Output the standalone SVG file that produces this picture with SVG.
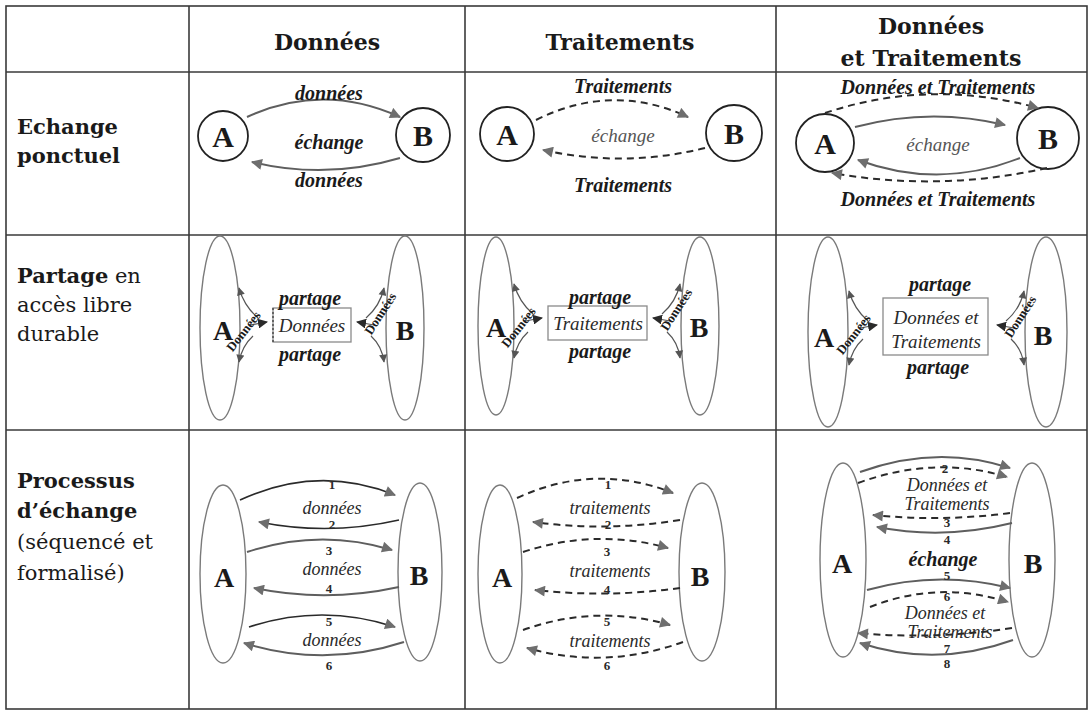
<svg xmlns="http://www.w3.org/2000/svg" xmlns:xlink="http://www.w3.org/1999/xlink" width="1091" height="712" viewBox="0 0 1091 712">
  <style>
    .grid { stroke: #3a3a3a; stroke-width: 1.6; fill: none; }
    .hdr { font-family: "DejaVu Serif", "Liberation Serif", serif; font-weight: bold; font-size: 22px; fill: #1a1a1a; text-anchor: middle; }
    .rowl { font-family: "DejaVu Serif", "Liberation Serif", serif; font-size: 21px; fill: #1a1a1a; }
    .rowl .b { font-weight: bold; }
    .node { stroke: #222; stroke-width: 1.8; fill: #fff; }
    .ell { stroke: #7a7a7a; stroke-width: 1.4; fill: none; }
    .ab { font-family: "Liberation Serif", serif; font-weight: bold; font-size: 30px; fill: #1a1a1a; text-anchor: middle; }
    .ab2 { font-family: "Liberation Serif", serif; font-weight: bold; font-size: 28px; fill: #1a1a1a; text-anchor: middle; }
    .arc { stroke: #5e5e5e; stroke-width: 2; fill: none; }
    .arcd { stroke: #2a2a2a; stroke-width: 1.6; fill: none; }
    .dash { stroke: #2a2a2a; stroke-width: 2; fill: none; stroke-dasharray: 7 5; }
    .thin { stroke: #555; stroke-width: 1.2; fill: none; }
    .lb { font-family: "Liberation Serif", serif; font-weight: bold; font-style: italic; font-size: 20px; fill: #1a1a1a; text-anchor: middle; }
    .li { font-family: "Liberation Serif", serif; font-style: italic; font-size: 19px; fill: #2a2a2a; text-anchor: middle; }
    .ls { font-family: "Liberation Serif", serif; font-style: italic; font-size: 18px; fill: #2a2a2a; text-anchor: middle; }
    .lg { font-family: "Liberation Serif", serif; font-style: italic; font-size: 19px; fill: #555; text-anchor: middle; }
    .num { font-family: "Liberation Serif", serif; font-weight: bold; font-size: 13px; fill: #2a2a2a; text-anchor: middle; }
    .rot { font-family: "Liberation Serif", serif; font-weight: bold; font-size: 13px; fill: #1a1a1a; text-anchor: middle; }
    .box { stroke: #8a8a8a; stroke-width: 1.3; fill: #fff; }
  </style>
  <defs>
    <marker id="ah" viewBox="0 0 10 10" refX="9" refY="5" markerWidth="12" markerHeight="11" markerUnits="userSpaceOnUse" orient="auto">
      <path d="M0,0 L10,5 L0,10 z" fill="#6e6e6e"/>
    </marker>
    <marker id="ahs" viewBox="0 0 10 10" refX="9" refY="5" markerWidth="9" markerHeight="8" markerUnits="userSpaceOnUse" orient="auto">
      <path d="M0,0 L10,5 L0,10 z" fill="#555"/>
    </marker>
    <marker id="ahk" viewBox="0 0 10 10" refX="9" refY="5" markerWidth="10" markerHeight="10" markerUnits="userSpaceOnUse" orient="auto">
      <path d="M0,0 L10,5 L0,10 z" fill="#2a2a2a"/>
    </marker>
    <!-- shared access arrows, left side: origin = tip of the arrow pointing at the box -->
    <g id="shareL">
      <path class="thin" d="M-9,-4 Q-23,-16 -28,-34" marker-end="url(#ahs)"/>
      <path class="thin" d="M-17,3 L0,0" marker-end="url(#ahk)"/>
      <path class="thin" d="M-14,14 Q-25,24 -28,40" marker-end="url(#ahs)"/>
      <text class="rot" transform="translate(-20,12) rotate(-52)">Données</text>
    </g>
    <!-- shared access arrows, right side -->
    <g id="shareR">
      <path class="thin" d="M9,-4 Q23,-16 27,-34" marker-end="url(#ahs)"/>
      <path class="thin" d="M17,3 L0,0" marker-end="url(#ahk)"/>
      <path class="thin" d="M14,14 Q25,24 27,40" marker-end="url(#ahs)"/>
      <text class="rot" transform="translate(27,-6) rotate(-57)">Données</text>
    </g>
  </defs>

  <rect width="1091" height="712" fill="#fff"/>

  <!-- table grid -->
  <g id="grid" class="grid">
    <rect x="6" y="6" width="1081" height="703"/>
    <line x1="189" y1="6" x2="189" y2="709"/>
    <line x1="465" y1="6" x2="465" y2="709"/>
    <line x1="776" y1="6" x2="776" y2="709"/>
    <line x1="6" y1="72" x2="1087" y2="72"/>
    <line x1="6" y1="235" x2="1087" y2="235"/>
    <line x1="6" y1="430" x2="1087" y2="430"/>
  </g>

  <!-- column headers -->
  <g id="headers">
    <text class="hdr" x="327" y="50">Données</text>
    <text class="hdr" x="620" y="50">Traitements</text>
    <text class="hdr" x="931" y="34">Données</text>
    <text class="hdr" x="931" y="66">et Traitements</text>
  </g>

  <!-- row headers -->
  <g id="row-labels" class="rowl">
    <text x="17" y="134" class="b">Echange</text>
    <text x="17" y="163" class="b">ponctuel</text>
    <text x="17" y="283"><tspan class="b">Partage</tspan> en</text>
    <text x="17" y="312">accès libre</text>
    <text x="17" y="341">durable</text>
    <text x="17" y="488" class="b">Processus</text>
    <text x="17" y="518" class="b">d’échange</text>
    <text x="17" y="549">(séquencé et</text>
    <text x="17" y="580">formalisé)</text>
  </g>

  <!-- ===== Row 1: point-to-point exchange ===== -->
  <g id="r1c2-A"><circle class="node" cx="223" cy="136" r="25"/><text class="ab" x="223" y="147">A</text></g>
  <g id="r1c2-B"><circle class="node" cx="423" cy="135" r="27"/><text class="ab" x="423" y="146">B</text></g>
  <g id="r1c3-A"><circle class="node" cx="507" cy="134" r="27"/><text class="ab" x="507" y="145">A</text></g>
  <g id="r1c3-B"><circle class="node" cx="734" cy="133" r="28"/><text class="ab" x="734" y="144">B</text></g>
  <g id="r1c4-A"><circle class="node" cx="825" cy="143" r="29"/><text class="ab" x="825" y="154">A</text></g>
  <g id="r1c4-B"><circle class="node" cx="1048" cy="138" r="31"/><text class="ab" x="1048" y="149">B</text></g>

  <!-- ===== Row 2: shared access ===== -->
  <g id="r2c2-A"><ellipse class="ell" cx="220" cy="328" rx="20" ry="92"/><text class="ab2" x="223" y="340">A</text></g>
  <g id="r2c2-B"><ellipse class="ell" cx="405" cy="328" rx="19" ry="92"/><text class="ab2" x="405" y="340">B</text></g>
  <g id="r2c2-store">
    <rect class="box" x="273" y="308" width="78" height="34"/>
    <line x1="273" y1="308" x2="273" y2="342" stroke="#333" stroke-width="1.2" stroke-dasharray="2 2"/>
    <text class="li" x="312" y="332">Données</text>
  </g>
  <g id="r2c3-A"><ellipse class="ell" cx="496" cy="326" rx="18" ry="89"/><text class="ab2" x="496" y="337">A</text></g>
  <g id="r2c3-B"><ellipse class="ell" cx="700" cy="326" rx="19" ry="89"/><text class="ab2" x="699" y="337">B</text></g>
  <g id="r2c3-store">
    <rect class="box" x="548" y="306" width="99" height="34"/>
    <text class="li" x="598" y="330">Traitements</text>
  </g>
  <g id="r2c4-A"><ellipse class="ell" cx="828" cy="332" rx="20" ry="95"/><text class="ab2" x="824" y="347">A</text></g>
  <g id="r2c4-B"><ellipse class="ell" cx="1046" cy="332" rx="21" ry="95"/><text class="ab2" x="1043" y="345">B</text></g>
  <g id="r2c4-store">
    <rect class="box" x="883" y="298" width="105" height="57"/>
    <text class="li" x="936" y="324">Données et</text>
    <text class="li" x="936" y="348">Traitements</text>
  </g>

  <!-- ===== Row 3: sequenced exchange process ===== -->
  <g id="r3c2-A"><ellipse class="ell" cx="223" cy="574" rx="23" ry="89"/><text class="ab2" x="224" y="587">A</text></g>
  <g id="r3c2-B"><ellipse class="ell" cx="420" cy="572" rx="22" ry="89"/><text class="ab2" x="419" y="585">B</text></g>
  <g id="r3c3-A"><ellipse class="ell" cx="500" cy="574" rx="22" ry="89"/><text class="ab2" x="502" y="587">A</text></g>
  <g id="r3c3-B"><ellipse class="ell" cx="702" cy="572" rx="23" ry="89"/><text class="ab2" x="700" y="586">B</text></g>
  <g id="r3c4-A"><ellipse class="ell" cx="843" cy="560" rx="23" ry="97"/><text class="ab2" x="842" y="573">A</text></g>
  <g id="r3c4-B"><ellipse class="ell" cx="1032" cy="560" rx="23" ry="97"/><text class="ab2" x="1033" y="573">B</text></g>

  <!-- connectors -->
  <g id="connectors">
    <!-- row 1, data -->
    <path class="arc" d="M247,117 Q323,82 400,117" marker-end="url(#ah)"/>
    <path class="arc" d="M400,158 Q326,180 252,162" marker-end="url(#ah)"/>
    <!-- row 1, processing -->
    <path class="dash" d="M536,120 Q612,82 688,117" marker-end="url(#ah)"/>
    <path class="dash" d="M705,148 Q624,168 543,150" marker-end="url(#ah)"/>
    <!-- row 1, data and processing -->
    <path class="arc" d="M855,127 Q930,107 1005,125" marker-end="url(#ah)"/>
    <path class="arc" d="M1020,158 Q939,190 858,160" marker-end="url(#ah)"/>
    <path class="dash" d="M825,113 Q930,78 1038,108" marker-end="url(#ah)"/>
    <path class="dash" d="M1047,168 Q940,192 832,173" marker-end="url(#ah)"/>

    <!-- row 2, access arrows around each shared store -->
    <use xlink:href="#shareL" x="267" y="322"/>
    <use xlink:href="#shareR" x="357" y="322"/>
    <use xlink:href="#shareL" x="542" y="318"/>
    <use xlink:href="#shareR" x="653" y="318"/>
    <use xlink:href="#shareL" x="877" y="325"/>
    <use xlink:href="#shareR" x="997" y="325"/>

    <!-- row 3, data -->
    <path class="arcd" d="M240,500 Q318,464 395,495" marker-end="url(#ah)"/>
    <path class="arcd" d="M399,520 Q329,536 259,522" marker-end="url(#ah)"/>
    <path class="arc" d="M247,552 Q320,528 392,550" marker-end="url(#ah)"/>
    <path class="arc" d="M399,587 Q326,603 254,588" marker-end="url(#ah)"/>
    <path class="arcd" d="M249,627 Q322,603 395,627" marker-end="url(#ah)"/>
    <path class="arc" d="M404,642 Q324,668 244,643" marker-end="url(#ah)"/>
    <!-- row 3, processing -->
    <path class="dash" d="M517,498 Q595,462 673,493" marker-end="url(#ah)"/>
    <path class="dash" d="M680,520 Q606,532 533,522" marker-end="url(#ah)"/>
    <path class="dash" d="M523,552 Q596,528 668,548" marker-end="url(#ah)"/>
    <path class="dash" d="M680,588 Q607,598 535,590" marker-end="url(#ah)"/>
    <path class="dash" d="M523,630 Q596,604 670,625" marker-end="url(#ah)"/>
    <path class="dash" d="M683,642 Q605,670 527,648" marker-end="url(#ah)"/>
    <!-- row 3, data and processing -->
    <path class="arc" d="M860,472 Q937,444 1010,468" marker-end="url(#ah)"/>
    <path class="dash" d="M858,483 Q935,455 1007,477" marker-end="url(#ah)"/>
    <path class="dash" d="M1010,513 Q941,522 873,515" marker-end="url(#ah)"/>
    <path class="arc" d="M1012,523 Q944,540 877,527" marker-end="url(#ah)"/>
    <path class="arc" d="M867,590 Q938,570 1010,588" marker-end="url(#ah)"/>
    <path class="dash" d="M870,607 Q938,580 1008,602" marker-end="url(#ah)"/>
    <path class="dash" d="M1012,628 Q935,640 858,633" marker-end="url(#ah)"/>
    <path class="arc" d="M1013,640 Q936,668 860,643" marker-end="url(#ah)"/>
  </g>

  <!-- connector labels -->
  <g id="labels">
    <text class="lb" x="329" y="100">données</text>
    <text class="lb" x="329" y="149">échange</text>
    <text class="lb" x="329" y="187">données</text>

    <text class="lb" x="623" y="93">Traitements</text>
    <text class="lg" x="623" y="142">échange</text>
    <text class="lb" x="623" y="192">Traitements</text>

    <text class="lb" x="938" y="94">Données et Traitements</text>
    <text class="lg" x="938" y="151">échange</text>
    <text class="lb" x="938" y="206">Données et Traitements</text>

    <text class="lb" x="310" y="305">partage</text>
    <text class="lb" x="310" y="361">partage</text>
    <text class="lb" x="600" y="304">partage</text>
    <text class="lb" x="600" y="358">partage</text>
    <text class="lb" x="940" y="291">partage</text>
    <text class="lb" x="938" y="374">partage</text>

    <text class="num" x="332" y="489">1</text>
    <text class="ls" x="332" y="514">données</text>
    <text class="num" x="332" y="529">2</text>
    <text class="num" x="329" y="555">3</text>
    <text class="ls" x="332" y="575">données</text>
    <text class="num" x="329" y="593">4</text>
    <text class="num" x="329" y="626">5</text>
    <text class="ls" x="332" y="646">données</text>
    <text class="num" x="329" y="670">6</text>

    <text class="num" x="608" y="489">1</text>
    <text class="ls" x="610" y="514">traitements</text>
    <text class="num" x="608" y="529">2</text>
    <text class="num" x="607" y="556">3</text>
    <text class="ls" x="610" y="577">traitements</text>
    <text class="num" x="607" y="594">4</text>
    <text class="num" x="607" y="626">5</text>
    <text class="ls" x="610" y="647">traitements</text>
    <text class="num" x="607" y="670">6</text>

    <text class="num" x="945" y="473">2</text>
    <text class="ls" x="947" y="491">Données et</text>
    <text class="ls" x="947" y="510">Traitements</text>
    <text class="num" x="947" y="527">3</text>
    <text class="num" x="947" y="544">4</text>
    <text class="lb" x="943" y="566">échange</text>
    <text class="num" x="947" y="580">5</text>
    <text class="num" x="947" y="601">6</text>
    <text class="ls" x="945" y="619">Données et</text>
    <text class="ls" x="950" y="638">Traitements</text>
    <text class="num" x="947" y="653">7</text>
    <text class="num" x="947" y="668">8</text>
  </g>
</svg>
